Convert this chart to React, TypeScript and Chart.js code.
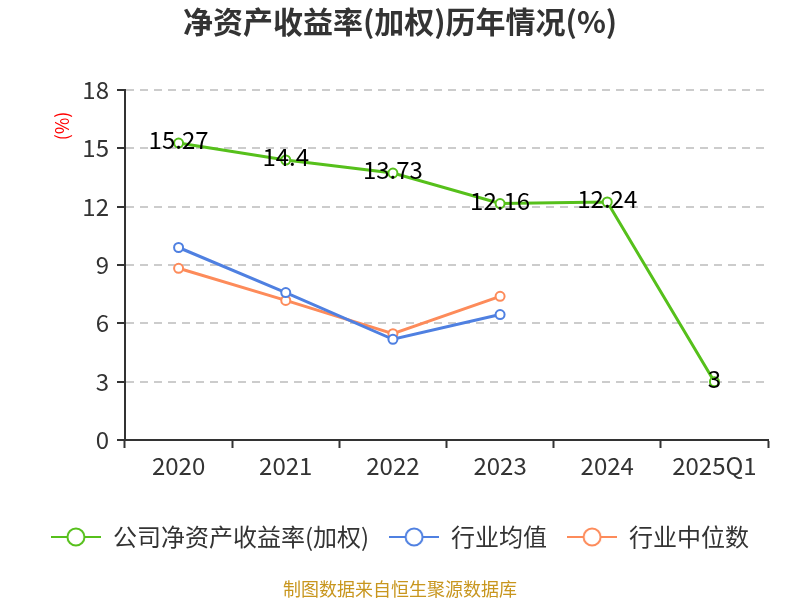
import React, { useRef, useEffect } from "react";
import { Chart, registerables } from "chart.js";

Chart.register(...registerables);

const categories = ["2020", "2021", "2022", "2023", "2024", "2025Q1"];
const companyRoe = [15.27, 14.4, 13.73, 12.16, 12.24, 3];
const industryAvg = [9.9, 7.58, 5.18, 6.45, null, null];
const industryMedian = [8.83, 7.18, 5.47, 7.39, null, null];
const yTicks = [0, 3, 6, 9, 12, 15, 18];

const GREEN = "#56c01b";
const BLUE = "#4f80e1";
const ORANGE = "#fd8b5a";
const FONT = "'Noto Sans CJK SC', 'Noto Sans', sans-serif";

// legend marker: a short line with a hollow circle in the middle
const makeMarker = (color: string) => {
  const c = document.createElement("canvas");
  c.width = 50;
  c.height = 22;
  const g = c.getContext("2d")!;
  g.strokeStyle = color;
  g.lineWidth = 2;
  g.beginPath();
  g.moveTo(0, 11);
  g.lineTo(50, 11);
  g.stroke();
  g.fillStyle = "#fff";
  g.beginPath();
  g.arc(25, 11, 8.5, 0, Math.PI * 2);
  g.fill();
  g.stroke();
  return c;
};

const extras = {
  id: "extras",
  // title and legend are centred on the whole canvas, not on the padded box
  afterLayout(chart: any) {
    [chart.titleBlock, chart.legend].forEach((b: any) => {
      if (!b) return;
      b.left = 0;
      b.right = chart.width;
    });
  },
  afterDatasetsDraw(chart: any) {
    const ctx = chart.ctx;
    const meta = chart.getDatasetMeta(0);
    ctx.save();
    ctx.font = `24px ${FONT}`;
    ctx.fillStyle = "#000";
    ctx.textAlign = "center";
    ctx.textBaseline = "middle";
    meta.data.forEach((pt: any, i: number) => {
      ctx.fillText(String(companyRoe[i]), pt.x, pt.y - 3);
    });
    ctx.restore();
  },
  afterDraw(chart: any) {
    const ctx = chart.ctx;
    const area = chart.chartArea;
    ctx.save();
    ctx.translate(62, area.top + 36);
    ctx.rotate(-Math.PI / 2);
    ctx.font = `18px ${FONT}`;
    ctx.fillStyle = "#ff0000";
    ctx.textAlign = "center";
    ctx.textBaseline = "middle";
    ctx.fillText("(%)", 0, 0);
    ctx.restore();

    ctx.save();
    ctx.font = `18px ${FONT}`;
    ctx.fillStyle = "#c8961e";
    ctx.textAlign = "center";
    ctx.textBaseline = "middle";
    ctx.fillText("制图数据来自恒生聚源数据库", chart.width / 2, 589);
    ctx.restore();
  },
};

const ds = (label: string, data: (number | null)[], color: string) => ({
  label,
  data,
  borderColor: color,
  backgroundColor: "#fff",
  borderWidth: 3,
  pointRadius: 4.5,
  pointBorderWidth: 2,
  pointBackgroundColor: "#fff",
  pointBorderColor: color,
  tension: 0,
  spanGaps: false,
});

const App = () => {
  const canvasRef = useRef<HTMLCanvasElement>(null);

  useEffect(() => {
    const ctx = canvasRef.current?.getContext("2d");
    if (!ctx) return;
    const colors = [GREEN, BLUE, ORANGE];
    const chart = new Chart(ctx, {
      type: "line",
      data: {
        labels: categories,
        datasets: [
          ds("公司净资产收益率(加权)", companyRoe, GREEN),
          ds("行业均值", industryAvg, BLUE),
          ds("行业中位数", industryMedian, ORANGE),
        ],
      },
      options: {
        animation: false,
        responsive: false,
        layout: { padding: { top: 0, right: 32, bottom: 41, left: 0 } },
        plugins: {
          tooltip: { enabled: false },
          title: {
            display: true,
            text: "净资产收益率(加权)历年情况(%)",
            color: "#333",
            font: { size: 30, weight: "bold", family: FONT },
            padding: { top: 4, bottom: 50 },
          },
          legend: {
            position: "bottom",
            labels: {
              usePointStyle: true,
              pointStyleWidth: 50,
              color: "#333",
              font: { size: 24, family: FONT },
              padding: 20,
              generateLabels: (c: any) =>
                c.data.datasets.map((d: any, i: number) => ({
                  text: d.label,
                  pointStyle: makeMarker(colors[i]),
                  fillStyle: colors[i],
                  strokeStyle: colors[i],
                  lineWidth: 0,
                  hidden: false,
                  datasetIndex: i,
                  fontColor: "#333",
                })),
            },
          },
        },
        scales: {
          x: {
            offset: true,
            grid: {
              offset: true,
              drawOnChartArea: false,
              drawTicks: true,
              tickLength: 8,
              tickColor: "#333",
              tickWidth: 2,
            },
            border: { color: "#333", width: 2 },
            ticks: { color: "#333", font: { size: 24, family: FONT }, padding: 3 },
            afterFit: (s: any) => {
              s.height = 65;
            },
          },
          y: {
            min: 0,
            max: 18,
            afterBuildTicks: (s: any) => {
              s.ticks = yTicks.map((v) => ({ value: v }));
            },
            grid: {
              color: "#ccc",
              lineWidth: 2,
              tickLength: 8,
              tickColor: "#333",
              tickWidth: 2,
              tickBorderDash: [],
            },
            border: { color: "#333", width: 2, dash: [8, 6] },
            ticks: { color: "#333", font: { size: 24, family: FONT }, padding: 8 },
            afterFit: (s: any) => {
              s.width = 125;
            },
          },
        },
      },
      plugins: [extras],
    });
    return () => {
      chart.destroy();
    };
  }, []);

  return (
    <div style={{ position: "absolute", left: 0, top: 0, width: 800, height: 600 }}>
      <canvas ref={canvasRef} width={800} height={600}></canvas>
    </div>
  );
};

export default App;
